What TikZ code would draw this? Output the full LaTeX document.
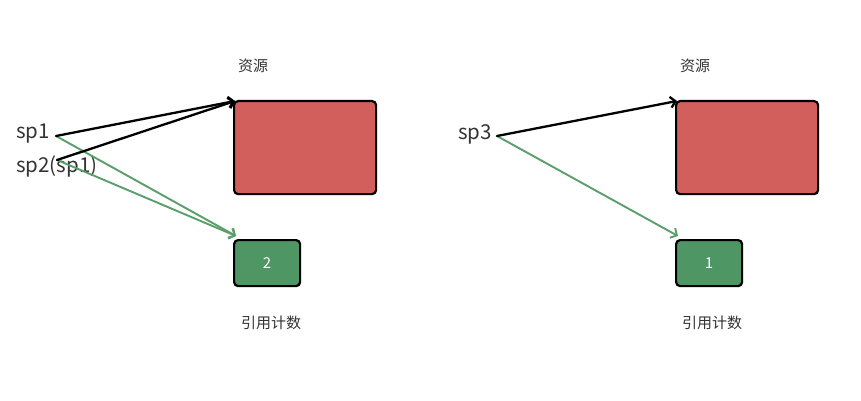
\documentclass[tikz,border=0pt]{standalone}
\usepackage{fontspec}
\setmainfont{Noto Sans CJK SC}
\usetikzlibrary{arrows.meta}
\definecolor{resred}{HTML}{D35F5C}
\definecolor{cntgreen}{HTML}{4E9664}
\definecolor{arrgreen}{HTML}{5A9E6A}
\definecolor{txtgray}{HTML}{333333}
\tikzset{
  res/.style={draw=black,line width=2.2pt,fill=resred,rounded corners=4pt,
    minimum width=142pt,minimum height=93pt,anchor=north west},
  cnt/.style={draw=black,line width=2.2pt,fill=cntgreen,rounded corners=4pt,
    minimum width=66pt,minimum height=46pt,anchor=north west,text=white,
    font=\fontsize{15}{15}\selectfont},
  lbl/.style={text=txtgray,font=\fontsize{15}{15}\selectfont},
  ptr/.style={text=txtgray,font=\fontsize{20.5}{20.5}\selectfont,anchor=west,inner sep=0pt},
  toRes/.style={-{Straight Barb[length=5pt,width=11pt]},line width=2.3pt,black},
  toCnt/.style={-{Straight Barb[length=5pt,width=11pt]},line width=1.9pt,arrgreen}
}
\begin{document}
\begin{tikzpicture}[x=1pt,y=-1pt,line join=round,line cap=round]
	\useasboundingbox (0,0) rectangle (861,401);
	% left: two pointers share one resource
	\node[res] (resA) at (233,100) {};
	\node[cnt] (cntA) at (233,239) {2};
	\node[lbl] (resAl) at (253,66) {资源};
	\node[lbl] (cntAl) at (271,323) {引用计数};
	\node[ptr] (sp1) at (16,134) {sp1};
	\node[ptr] (sp2) at (16,166) {sp2(sp1)};
	% right: one pointer
	\node[res] (resB) at (675,100) {};
	\node[cnt] (cntB) at (675,239) {1};
	\node[lbl] (resBl) at (695,66) {资源};
	\node[lbl] (cntBl) at (712,323) {引用计数};
	\node[ptr] (sp3) at (458,134) {sp3};
	\path (56,136) coordinate (s1)
		(57,160) coordinate (s2)
		(497,136) coordinate (s3);
	\foreach\s/\r/\c in {s1/resA/cntA,s2/resA/cntA,s3/resB/cntB}
	{\draw[toCnt] (\s)--([shift={(3,-3)}]\c.north west);
	 \draw[toRes] (\s)--([shift={(2,1)}]\r.north west);}
\end{tikzpicture}
\end{document}
